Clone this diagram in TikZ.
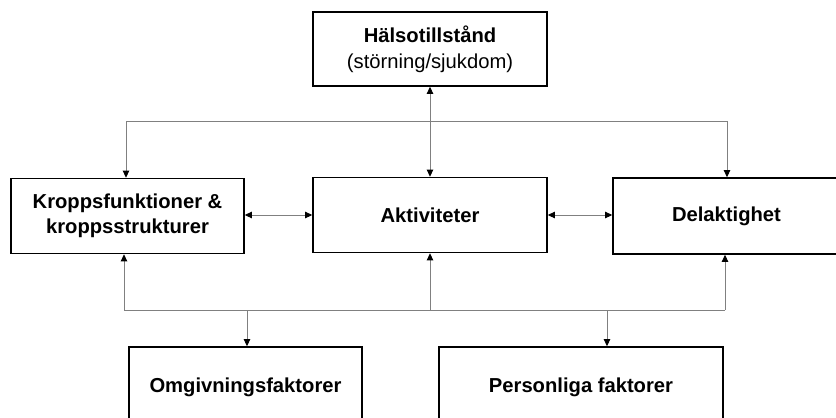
\documentclass[tikz,border=0pt]{standalone}
\usepackage{fontspec}
\setmainfont{Liberation Sans}
\usetikzlibrary{arrows.meta}
\begin{document}
\begin{tikzpicture}[x=1pt,y=-1pt,
  box/.style={draw=black,line width=1.7pt,rectangle,inner sep=0pt,align=center,
    font=\fontsize{20.2}{25}\selectfont\bfseries},
  conn/.style={draw=black!50,line width=0.9pt},
  tip/.style={-{Triangle[width=6.5pt,length=7pt,color=black]}},
  dtip/.style={{Triangle[width=6.5pt,length=7pt,color=black]}-{Triangle[width=6.5pt,length=7pt,color=black]}}]
\useasboundingbox (0,0) rectangle (836,418);
\fill[white] (0,0) rectangle (836,418);
\node[box,minimum width=234pt,minimum height=74pt] (top) at (430,49)
  {H\"alsotillst\aa nd\\[1pt]{\mdseries (st\"orning/sjukdom)}};
\node[box,minimum width=233pt,minimum height=75pt] (kropp) at (127.5,216)
  {Kroppsfunktioner \&\\kroppsstrukturer};
\node[box,minimum width=234pt,minimum height=75pt] (akt) at (430,215)
  {Aktiviteter};
\node[box,minimum width=227pt,minimum height=76pt] (del) at (726.5,216)
  {Delaktighet};
\node[box,minimum width=233pt,minimum height=80pt] (omg) at (245.5,387)
  {Omgivningsfaktorer};
\node[box,minimum width=284pt,minimum height=80pt] (pers) at (581,387)
  {Personliga faktorer};
% top bus
\coordinate (tl) at (126,121);
\coordinate (tr) at (727,121);
\draw[conn] (tl) -- (tr);
\draw[conn,tip] (tl) -- (tl |- kropp.north);
\draw[conn,tip] (tr) -- (tr |- del.north);
\draw[conn,dtip] (top.south) -- (akt.north);
% horizontal links
\draw[conn,dtip] (kropp.east |- akt.east) -- (akt.west);
\draw[conn,dtip] (akt.east) -- (akt.east -| del.west);
% bottom bus
\coordinate (bl) at (124,310);
\coordinate (br) at (725,310);
\coordinate (bo) at (247,310);
\coordinate (bp) at (607,310);
\draw[conn] (bl) -- (br);
\draw[conn,tip] (bl) -- (bl |- kropp.south);
\draw[conn,tip] (akt.south |- bl) -- (akt.south);
\draw[conn,tip] (br) -- (br |- del.south);
\draw[conn,tip] (bo) -- (bo |- omg.north);
\draw[conn,tip] (bp) -- (bp |- pers.north);
\end{tikzpicture}
\end{document}
